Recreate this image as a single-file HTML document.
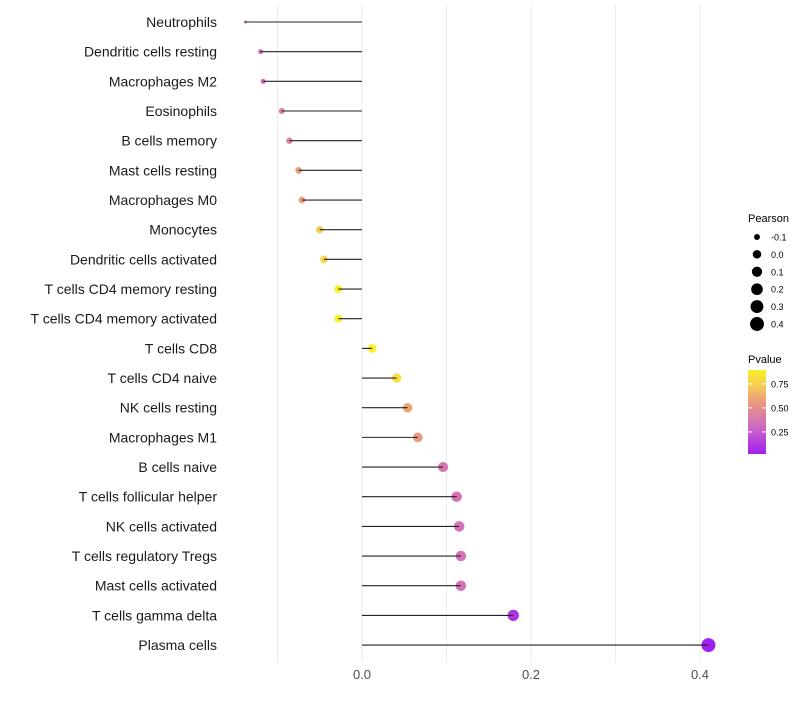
<!DOCTYPE html>
<html><head><meta charset="utf-8"><style>
body{margin:0;background:#fff;font-family:"Liberation Sans",sans-serif}
</style></head><body>
<svg id="chart" width="800" height="700" xmlns="http://www.w3.org/2000/svg"></svg>
<script>
const categories=["Neutrophils","Dendritic cells resting","Macrophages M2","Eosinophils","B cells memory","Mast cells resting","Macrophages M0","Monocytes","Dendritic cells activated","T cells CD4 memory resting","T cells CD4 memory activated","T cells CD8","T cells CD4 naive","NK cells resting","Macrophages M1","B cells naive","T cells follicular helper","NK cells activated","T cells regulatory  Tregs ","Mast cells activated","T cells gamma delta","Plasma cells"];
const pearson=[-0.138,-0.12,-0.117,-0.095,-0.086,-0.075,-0.071,-0.05,-0.045,-0.028,-0.028,0.012,0.041,0.054,0.066,0.096,0.112,0.115,0.117,0.117,0.179,0.41];
const pvalue=[0.27,0.32,0.32,0.42,0.45,0.58,0.58,0.75,0.77,0.9,0.9,0.93,0.82,0.6,0.55,0.38,0.35,0.35,0.35,0.35,0.1,0.02];
const xTicks=[0,0.2,0.4];
const sizeTicks=[-0.1,0,0.1,0.2,0.3,0.4];
const colorTicks=[0.25,0.5,0.75];
const NS="http://www.w3.org/2000/svg";
const svg=document.getElementById("chart");
const X=v=>362+v*845;
const Y=i=>22+i*29.67;
const pMin=Math.min(...pearson),pMax=Math.max(...pearson);
const R=v=>1.5+5.5*Math.sqrt(Math.max(0,(v-pMin)/(pMax-pMin)));
const stops=[[0,[160,32,240]],[0.35,[210,110,190]],[0.6,[232,150,130]],[0.8,[245,200,90]],[1,[250,240,40]]];
function col(p){const t=Math.max(0,Math.min(1,(p-0.02)/0.88));
 for(let k=1;k<stops.length;k++){if(t<=stops[k][0]){const [o0,s]=stops[k-1],[o1,e]=stops[k];const u=(t-o0)/(o1-o0);
 return `rgb(${s.map((v,j)=>Math.round(v+(e[j]-v)*u)).join(",")})`;}}
 return "rgb(250,240,40)";}
function mk(tag,attrs,parent){const el=document.createElementNS(NS,tag);for(const k in attrs)el.setAttribute(k,attrs[k]);(parent||svg).appendChild(el);return el;}
[-0.1,0,0.1,0.2,0.3,0.4].forEach(v=>{const g=mk("line",{x1:X(v),x2:X(v),y1:5,y2:662,stroke:"#ebebeb","stroke-width":1});

});
xTicks.forEach(v=>{const t=mk("text",{x:X(v),y:679,"text-anchor":"middle","font-size":13,fill:"#4d4d4d"});t.textContent=v.toFixed(1);

});
categories.forEach((c,i)=>{
 const t=mk("text",{x:217,y:Y(i)+5,"text-anchor":"end","font-size":14,fill:"#1a1a1a"});t.textContent=c;
 
 
 const d=mk("circle",{cx:X(pearson[i]),cy:Y(i),r:R(pearson[i]),fill:col(pvalue[i])});
 
 
 const l=mk("line",{x1:X(0),x2:X(pearson[i]),y1:Y(i),y2:Y(i),stroke:"#222","stroke-width":1.1});
 
 
});
const lt=mk("text",{x:748,y:222,"font-size":11,fill:"#000"});lt.textContent="Pearson";


sizeTicks.forEach((v,i)=>{const y=237+i*17.4;
 const c=mk("circle",{cx:757,cy:y,r:R(v),fill:"#000"});
 
 
 const t=mk("text",{x:771,y:y+3.5,"font-size":9,fill:"#000"});t.textContent=v.toFixed(1);
 
 });
const pt=mk("text",{x:748,y:363,"font-size":11,fill:"#000"});pt.textContent="Pvalue";


const defs=mk("defs",{});const gr=mk("linearGradient",{id:"gb",x1:0,y1:1,x2:0,y2:0},defs);
stops.forEach(s=>mk("stop",{offset:s[0],"stop-color":`rgb(${s[1].join(",")})`},gr));
const bar=mk("rect",{x:748,y:370,width:18,height:84,fill:"url(#gb)"});


colorTicks.forEach(v=>{const y=454-(v-0.02)*96;
 mk("line",{x1:748,x2:752,y1:y,y2:y,stroke:"#fff"});mk("line",{x1:762,x2:766,y1:y,y2:y,stroke:"#fff"});
 const t=mk("text",{x:771,y:y+3.5,"font-size":9,fill:"#000"});t.textContent=v.toFixed(2);
 
 });
</script>
</body></html>
